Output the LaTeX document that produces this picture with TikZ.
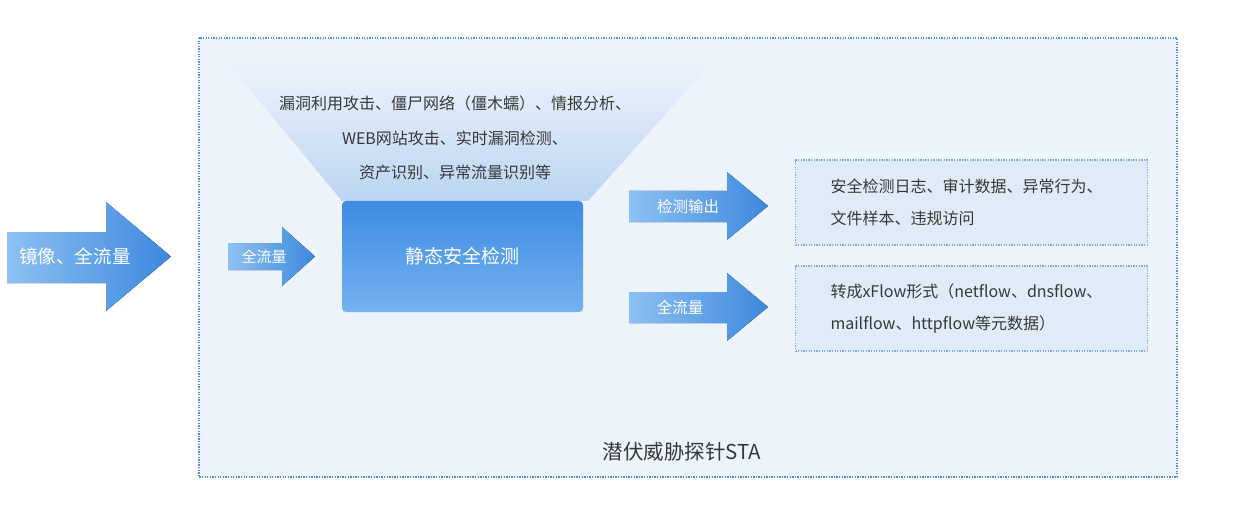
\documentclass[tikz,border=0pt]{standalone}
\usepackage{fontspec}
\setmainfont{Noto Sans CJK SC}
\usepackage{xcolor}
\usetikzlibrary{positioning}
\definecolor{probebg}{HTML}{EDF3FB}
\definecolor{probeline}{HTML}{4A8FD8}
\definecolor{arrowL}{HTML}{8DC1F2}
\definecolor{arrowR}{HTML}{3C88DE}
\definecolor{boxtop}{HTML}{3D8BE2}
\definecolor{boxbot}{HTML}{74B2F0}
\definecolor{funnelB}{HTML}{BCD5F2}
\definecolor{outbg}{HTML}{E1EBF8}
\definecolor{txt}{HTML}{383838}

\begin{document}
\begin{tikzpicture}[x=1pt,y=-1pt,
  dots/.style={draw=probeline,line width=1.3pt,dash pattern=on 1.3pt off 1.3pt},
  arrowfill/.style={left color=arrowL,right color=arrowR,draw=none},
  arrowtext/.style={text=white,inner sep=0pt,font=\fontsize{#1}{#1}\selectfont},
  arrowtext/.default=15.5pt,
  detectbox/.style={top color=boxtop,bottom color=boxbot,rounded corners=4pt,
                    minimum width=241pt,minimum height=111pt,inner sep=0pt,
                    text=white,font=\fontsize{19pt}{19pt}\selectfont},
  outbox/.style={dots,draw=probeline!75,line width=1.1pt,fill=outbg,align=left,
                 text width=282pt,inner xsep=35pt,minimum height=85pt,text=txt,
                 font=\fontsize{16pt}{32pt}\selectfont}]
  \useasboundingbox (0,0) rectangle (1255,505);
  \fill[white] (0,0) rectangle (1255,505);
  % probe frame
  \draw[dots,fill=probebg] (199,38) rectangle (1177,477);
  \node[text=txt,font=\fontsize{20.5pt}{20.5pt}\selectfont] (probe) at (682,452) {潜伏威胁探针STA};

  % funnel and detection box
  \shade[top color=probebg,bottom color=funnelB] (227,62) -- (712,62) -- (588,201) -- (342,201) -- cycle;
  \node[align=center,text=txt,font=\fontsize{16pt}{34.5pt}\selectfont] (attacks) at (455,138)
    {漏洞利用攻击、僵尸网络（僵木蠕）、情报分析、\\WEB网站攻击、实时漏洞检测、\\资产识别、异常流量识别等};
  \node[detectbox] (detect) at (462.5,256.5) {静态安全检测};

  % block arrows
  \fill[arrowfill] (7,232) -- (106,232) -- (106,202) -- (171,256.5) -- (106,311) -- (106,283) -- (7,283) -- cycle;
  \node[arrowtext=18.5pt] (mirror) at (75,256.5) {镜像、全流量};
  \fill[arrowfill] (228,243) -- (282,243) -- (282,227) -- (315,256.5) -- (282,286) -- (282,270) -- (228,270) -- cycle;
  \node[arrowtext=15pt] (flowin) at (264,256.5) {全流量};
  \fill[arrowfill] (629,191) -- (727,191) -- (727,172) -- (768,206) -- (727,240) -- (727,222) -- (629,222) -- cycle;
  \node[arrowtext] (outlog) at (688,206.5) {检测输出};
  \fill[arrowfill] (629,292) -- (727,292) -- (727,273) -- (768,307) -- (727,341) -- (727,323) -- (629,323) -- cycle;
  \node[arrowtext] (outflow) at (680,307.5) {全流量};

  % output boxes
  \node[outbox] (logbox) at (971.5,202.5) {安全检测日志、审计数据、异常行为、\\文件样本、违规访问};
  \node[outbox] (flowbox) at (971.5,308.5) {转成xFlow形式（netflow、dnsflow、\\mailflow、httpflow等元数据）};
\end{tikzpicture}
\end{document}
